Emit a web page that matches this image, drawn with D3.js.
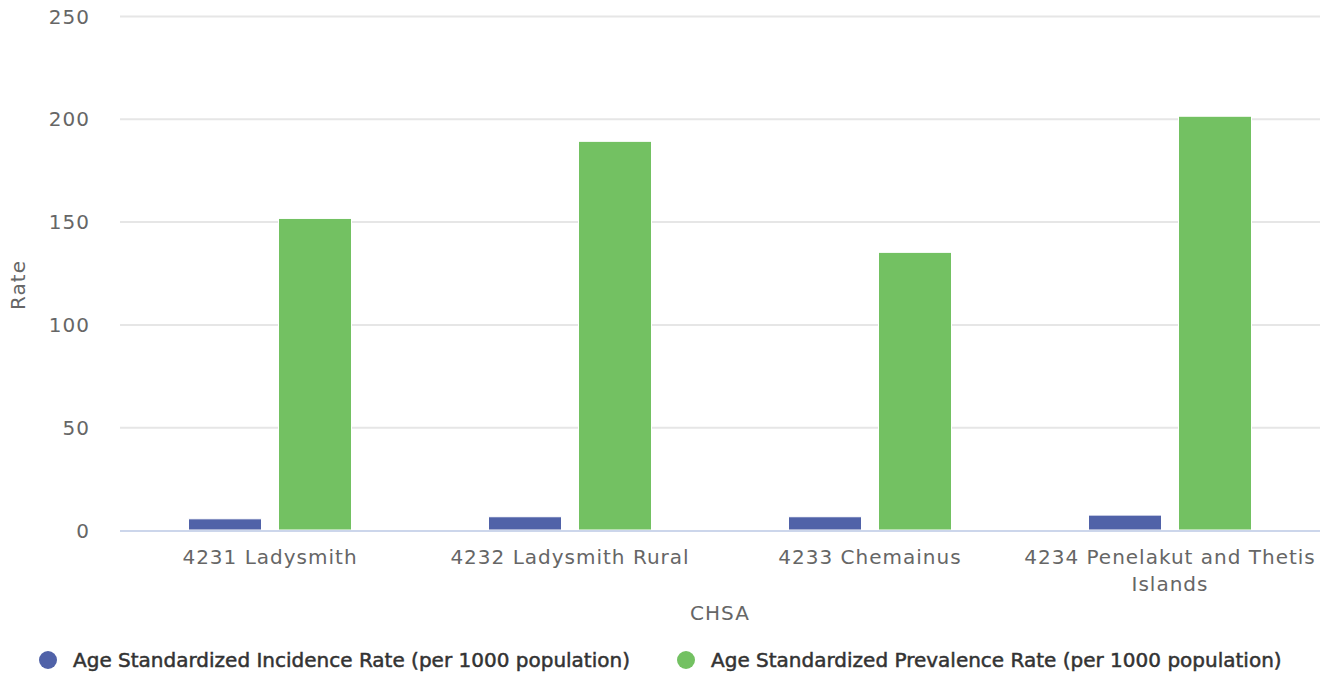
<!DOCTYPE html>
<html><head><meta charset="utf-8">
<script src="https://cdn.jsdelivr.net/npm/d3@7"></script>
<style>
body{margin:0;background:#fff;}
text{font-family:"DejaVu Sans",Verdana,sans-serif;}
</style></head>
<body><svg id="c" width="1327" height="677"></svg>
<script>
const categories = ["4231 Ladysmith","4232 Ladysmith Rural","4233 Chemainus","4234 Penelakut and Thetis Islands"];
const seriesNames = ["Age Standardized Incidence Rate (per 1000 population)","Age Standardized Prevalence Rate (per 1000 population)"];
const incidence = [5.2, 6.2, 6.2, 7.0];
const prevalence = [151.3, 188.8, 134.8, 201.0];
const yTicks = [0, 50, 100, 150, 200, 250];
const colors = ["#5062a8", "#73c162"];

const svg = d3.select("#c");
const L = 120, R = 1320, T = 16, B = 530;
const x = d3.scaleBand().domain(categories).range([L, R]).paddingInner(0).paddingOuter(0);
const x1 = d3.scaleBand().domain([0,1]).range([0, x.bandwidth()*0.6]).padding(0);
const y = d3.scaleLinear().domain([0, 250]).range([B, T]);

// grid
svg.append("g").selectAll("line").data(yTicks.filter(d=>d>0)).join("line")
  .attr("x1", L).attr("x2", R).attr("y1", d=>y(d)+0.5).attr("y2", d=>y(d)+0.5)
  .attr("stroke", "#e6e6e6").attr("stroke-width", 2);

// y axis labels
const yAxis = d3.axisLeft(y).tickValues(yTicks).tickSize(0).tickPadding(0);
const gy = svg.append("g").attr("transform", `translate(${90},0)`).call(yAxis);
gy.select(".domain").remove();
gy.selectAll("text").attr("fill", "#666").style("font-size", "20px").style("letter-spacing","1px").attr("dy", "0.35em");

// bars
const series = [incidence, prevalence];
series.forEach((vals, si) => {
  svg.append("g").selectAll("rect").data(vals).join("rect")
    .attr("x", (d,i) => x(categories[i]) + x.bandwidth()*0.2 + x1(si) + x1.bandwidth()*0.1 - 0.5)
    .attr("width", x1.bandwidth()*0.8 + 1)
    .attr("y", d => y(d) - 0.5)
    .attr("height", d => B - y(d) + 0.5)
    .attr("fill", colors[si]).attr("stroke", "#fff").attr("stroke-width", 1);
});

// x axis line
svg.append("line").attr("x1", L).attr("x2", R).attr("y1", B+1).attr("y2", B+1)
  .attr("stroke", "#ccd6eb").attr("stroke-width", 2);

// x labels
const xAxis = d3.axisBottom(x).tickSize(0).tickPadding(0);
const gx = svg.append("g").attr("transform", `translate(0,${B})`).call(xAxis);
gx.select(".domain").remove();
gx.selectAll("text").remove();
const lbl = svg.append("g");
categories.forEach(c => {
  const cx = x(c) + x.bandwidth()/2;
  let lines = [c];
  if (c.length > 25) lines = ["4234 Penelakut and Thetis", "Islands"];
  lines.forEach((ln, k) => {
    lbl.append("text").attr("x", cx).attr("y", 564 + k*27).attr("text-anchor", "middle")
      .attr("fill", "#666").style("font-size", "20px").style("letter-spacing","1px").text(ln);
  });
});

// axis titles
svg.append("text").attr("x", 720).attr("y", 620).attr("text-anchor", "middle")
  .attr("fill", "#666").style("font-size", "20px").style("letter-spacing","1px").text("CHSA");
svg.append("text").attr("transform", "translate(25,285) rotate(-90)").attr("text-anchor", "middle")
  .attr("fill", "#666").style("font-size", "20px").style("letter-spacing","1px").text("Rate");

// legend
const legX = [48, 686];
seriesNames.forEach((n, i) => {
  svg.append("circle").attr("cx", legX[i]).attr("cy", 660).attr("r", 9).attr("fill", colors[i]);
  svg.append("text").attr("x", legX[i] + 25).attr("y", 667).attr("fill", "#333")
    .attr("stroke", "#333").attr("stroke-width", 0.5)
    .style("font-size", "20px").text(n);
});
</script></body></html>
